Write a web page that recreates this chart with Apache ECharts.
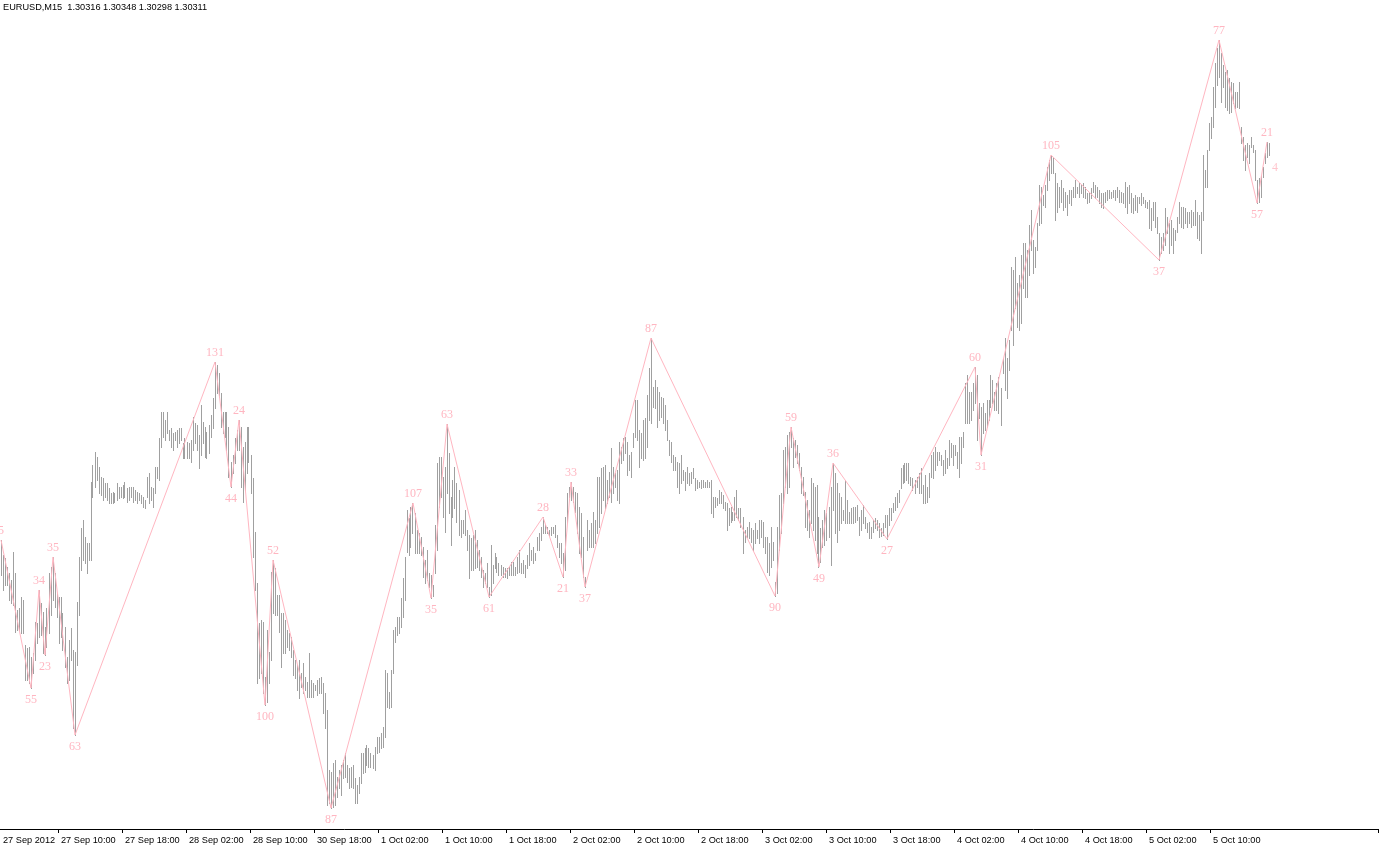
<!DOCTYPE html>
<html>
<head>
<meta charset="utf-8">
<title>EURUSD,M15</title>
<script src="https://cdn.jsdelivr.net/npm/echarts@6/dist/echarts.min.js"></script>
<style>
  html, body { margin: 0; padding: 0; background: #fff; }
  #chart { width: 1379px; height: 849px; }
</style>
</head>
<body>
<div id="chart"></div>
<script>
const symbol = 'EURUSD,M15'
// open, high, low, close of the last bar
const lastQuote = [1.30316, 1.30348, 1.30298, 1.30311]

// M15 bars, one value per bar
const highs = [
  1.28760, 1.28700, 1.28688, 1.28652, 1.28628, 1.28600, 1.28712, 1.28628, 1.28480, 1.28488,
  1.28532, 1.28520, 1.28340, 1.28328, 1.28332, 1.28292, 1.28308, 1.28432, 1.28428, 1.28560,
  1.28508, 1.28472, 1.28412, 1.28488, 1.28628, 1.28652, 1.28692, 1.28628, 1.28548, 1.28532,
  1.28532, 1.28468, 1.28412, 1.28292, 1.28360, 1.28408, 1.28320, 1.28312, 1.28512, 1.28692,
  1.28808, 1.28840, 1.28772, 1.28748, 1.28748, 1.28992, 1.29060, 1.29112, 1.29092, 1.29052,
  1.29012, 1.29008, 1.28988, 1.28988, 1.28968, 1.28948, 1.28952, 1.28948, 1.28988, 1.28972,
  1.28972, 1.28980, 1.28992, 1.28968, 1.28972, 1.28972, 1.28972, 1.28960, 1.28952, 1.28948,
  1.28940, 1.28932, 1.28920, 1.29012, 1.29028, 1.28972, 1.28968, 1.29052, 1.29052, 1.29168,
  1.29272, 1.29272, 1.29240, 1.29272, 1.29200, 1.29208, 1.29188, 1.29192, 1.29200, 1.29208,
  1.29208, 1.29148, 1.29168, 1.29152, 1.29148, 1.29160, 1.29252, 1.29228, 1.29220, 1.29180,
  1.29300, 1.29232, 1.29212, 1.29192, 1.29220, 1.29260, 1.29328, 1.29472, 1.29460, 1.29428,
  1.29348, 1.29272, 1.29272, 1.29272, 1.29212, 1.29072, 1.29100, 1.29168, 1.29200, 1.29240,
  1.29212, 1.29132, 1.29152, 1.29212, 1.29212, 1.29100, 1.29008, 1.28792, 1.28588, 1.28428,
  1.28440, 1.28432, 1.28212, 1.28400, 1.28312, 1.28632, 1.28680, 1.28648, 1.28540, 1.28540,
  1.28468, 1.28468, 1.28440, 1.28400, 1.28388, 1.28372, 1.28320, 1.28280, 1.28260, 1.28280,
  1.28228, 1.28268, 1.28212, 1.28192, 1.28308, 1.28200, 1.28188, 1.28180, 1.28200, 1.28208,
  1.28212, 1.28188, 1.28148, 1.28080, 1.27840, 1.27832, 1.27868, 1.27880, 1.27812, 1.27840,
  1.27860, 1.27880, 1.27908, 1.27860, 1.27848, 1.27852, 1.27860, 1.27808, 1.27780, 1.27812,
  1.27908, 1.27908, 1.27928, 1.27940, 1.27928, 1.27908, 1.27900, 1.27932, 1.27972, 1.27972,
  1.27988, 1.28012, 1.28240, 1.28228, 1.28152, 1.28240, 1.28400, 1.28412, 1.28452, 1.28452,
  1.28528, 1.28608, 1.28692, 1.28880, 1.28848, 1.28892, 1.28908, 1.28868, 1.28800, 1.28788,
  1.28772, 1.28732, 1.28680, 1.28720, 1.28628, 1.28620, 1.28580, 1.28820, 1.29068, 1.29092,
  1.29092, 1.29012, 1.29052, 1.29224, 1.29108, 1.28932, 1.29000, 1.29052, 1.28988, 1.28960,
  1.28840, 1.28840, 1.28880, 1.28800, 1.28780, 1.28768, 1.28780, 1.28800, 1.28760, 1.28720,
  1.28692, 1.28640, 1.28628, 1.28668, 1.28572, 1.28740, 1.28660, 1.28708, 1.28692, 1.28668,
  1.28660, 1.28652, 1.28648, 1.28648, 1.28652, 1.28672, 1.28672, 1.28652, 1.28692, 1.28720,
  1.28668, 1.28680, 1.28660, 1.28700, 1.28748, 1.28720, 1.28732, 1.28708, 1.28772, 1.28788,
  1.28812, 1.28852, 1.28820, 1.28812, 1.28800, 1.28812, 1.28812, 1.28820, 1.28780, 1.28748,
  1.28748, 1.28708, 1.28852, 1.28948, 1.28972, 1.28992, 1.28972, 1.28952, 1.28948, 1.28892,
  1.28868, 1.28772, 1.28612, 1.28840, 1.28800, 1.28828, 1.28872, 1.28840, 1.29012, 1.29012,
  1.29048, 1.29052, 1.29060, 1.29000, 1.29032, 1.29128, 1.29052, 1.29028, 1.29040, 1.29152,
  1.29132, 1.29168, 1.29172, 1.29152, 1.29100, 1.29112, 1.29188, 1.29320, 1.29320, 1.29200,
  1.29188, 1.29240, 1.29248, 1.29340, 1.29448, 1.29568, 1.29372, 1.29400, 1.29372, 1.29352,
  1.29332, 1.29328, 1.29300, 1.29240, 1.29160, 1.29152, 1.29100, 1.29092, 1.29072, 1.29068,
  1.29100, 1.29040, 1.29032, 1.29052, 1.29028, 1.29032, 1.29048, 1.29008, 1.29000, 1.28992,
  1.29000, 1.29000, 1.28992, 1.29000, 1.28992, 1.29000, 1.28932, 1.28932, 1.28928, 1.28960,
  1.28952, 1.28940, 1.28912, 1.28908, 1.28888, 1.28892, 1.28872, 1.28932, 1.28960, 1.28888,
  1.28888, 1.28852, 1.28800, 1.28812, 1.28832, 1.28808, 1.28800, 1.28828, 1.28800, 1.28840,
  1.28840, 1.28832, 1.28772, 1.28772, 1.28748, 1.28812, 1.28752, 1.28592, 1.28812, 1.28940,
  1.28948, 1.29120, 1.29132, 1.29180, 1.29192, 1.29212, 1.29168, 1.29160, 1.29140, 1.29108,
  1.29052, 1.29012, 1.28952, 1.28920, 1.28880, 1.29008, 1.28988, 1.28972, 1.28980, 1.28852,
  1.28808, 1.28840, 1.28880, 1.28868, 1.28892, 1.28972, 1.29068, 1.29028, 1.28988, 1.28948,
  1.28932, 1.28880, 1.29000, 1.28920, 1.28872, 1.28888, 1.28892, 1.28892, 1.28900, 1.28852,
  1.28880, 1.28900, 1.28852, 1.28828, 1.28832, 1.28812, 1.28840, 1.28848, 1.28840, 1.28828,
  1.28808, 1.28828, 1.28860, 1.28860, 1.28888, 1.28888, 1.28908, 1.28932, 1.28948, 1.28960,
  1.29048, 1.29060, 1.29068, 1.29068, 1.29068, 1.29012, 1.29008, 1.29000, 1.29012, 1.29028,
  1.29048, 1.28980, 1.29020, 1.28972, 1.29028, 1.29100, 1.29112, 1.29132, 1.29112, 1.29112,
  1.29100, 1.29080, 1.29120, 1.29088, 1.29160, 1.29148, 1.29140, 1.29140, 1.29112, 1.29172,
  1.29172, 1.29192, 1.29388, 1.29420, 1.29352, 1.29352, 1.29388, 1.29452, 1.29420, 1.29308,
  1.29292, 1.29308, 1.29268, 1.29320, 1.29320, 1.29420, 1.29400, 1.29352, 1.29388, 1.29412,
  1.29368, 1.29488, 1.29568, 1.29488, 1.29560, 1.29852, 1.29840, 1.29892, 1.29788, 1.29820,
  1.29900, 1.29948, 1.29948, 1.29920, 1.30020, 1.30080, 1.29960, 1.29932, 1.30028, 1.30180,
  1.30172, 1.30140, 1.30180, 1.30252, 1.30280, 1.30300, 1.30288, 1.30228, 1.30188, 1.30172,
  1.30200, 1.30168, 1.30152, 1.30140, 1.30160, 1.30160, 1.30172, 1.30200, 1.30172, 1.30188,
  1.30180, 1.30188, 1.30172, 1.30148, 1.30148, 1.30168, 1.30192, 1.30180, 1.30172, 1.30160,
  1.30148, 1.30148, 1.30152, 1.30160, 1.30160, 1.30152, 1.30160, 1.30160, 1.30172, 1.30160,
  1.30152, 1.30148, 1.30192, 1.30172, 1.30180, 1.30148, 1.30128, 1.30140, 1.30132, 1.30132,
  1.30148, 1.30132, 1.30120, 1.30112, 1.30120, 1.30088, 1.30112, 1.30112, 1.30052, 1.29988,
  1.29972, 1.29988, 1.30088, 1.30052, 1.30028, 1.30040, 1.30008, 1.30000, 1.30052, 1.30112,
  1.30092, 1.30092, 1.30088, 1.30072, 1.30072, 1.30080, 1.30072, 1.30120, 1.30072, 1.30060,
  1.30072, 1.30300, 1.30240, 1.30320, 1.30428, 1.30452, 1.30572, 1.30668, 1.30728, 1.30760,
  1.30708, 1.30660, 1.30632, 1.30640, 1.30608, 1.30592, 1.30588, 1.30552, 1.30552, 1.30592,
  1.30412, 1.30372, 1.30340, 1.30348, 1.30340, 1.30372, 1.30340, 1.30320, 1.30200, 1.30208,
  1.30220, 1.30252, 1.30308, 1.30352, 1.30348
]
const lows = [
  1.28620, 1.28560, 1.28580, 1.28580, 1.28520, 1.28508, 1.28500, 1.28392, 1.28400, 1.28400,
  1.28388, 1.28388, 1.28200, 1.28200, 1.28188, 1.28168, 1.28228, 1.28280, 1.28348, 1.28372,
  1.28380, 1.28308, 1.28300, 1.28332, 1.28388, 1.28460, 1.28520, 1.28492, 1.28452, 1.28348,
  1.28372, 1.28320, 1.28252, 1.28188, 1.28200, 1.28280, 1.28008, 1.27980, 1.28260, 1.28460,
  1.28640, 1.28680, 1.28668, 1.28628, 1.28680, 1.28680, 1.28932, 1.28972, 1.29000, 1.28948,
  1.28940, 1.28920, 1.28932, 1.28920, 1.28908, 1.28908, 1.28908, 1.28912, 1.28920, 1.28928,
  1.28932, 1.28928, 1.28932, 1.28912, 1.28920, 1.28932, 1.28912, 1.28920, 1.28908, 1.28920,
  1.28908, 1.28892, 1.28888, 1.28932, 1.28908, 1.28920, 1.28892, 1.28948, 1.29008, 1.29000,
  1.29132, 1.29172, 1.29160, 1.29188, 1.29160, 1.29132, 1.29120, 1.29160, 1.29132, 1.29148,
  1.29160, 1.29088, 1.29088, 1.29088, 1.29088, 1.29072, 1.29120, 1.29148, 1.29120, 1.29048,
  1.29100, 1.29148, 1.29092, 1.29088, 1.29108, 1.29172, 1.29208, 1.29288, 1.29348, 1.29332,
  1.29212, 1.29188, 1.29172, 1.29120, 1.29012, 1.28972, 1.29028, 1.29068, 1.29120, 1.29120,
  1.28972, 1.28912, 1.28960, 1.29028, 1.29072, 1.28948, 1.28692, 1.28560, 1.28188, 1.28208,
  1.28228, 1.28148, 1.28100, 1.28112, 1.28188, 1.28280, 1.28468, 1.28460, 1.28460, 1.28392,
  1.28252, 1.28308, 1.28308, 1.28332, 1.28320, 1.28292, 1.28220, 1.28208, 1.28160, 1.28128,
  1.28172, 1.28148, 1.28160, 1.28132, 1.28132, 1.28132, 1.28132, 1.28160, 1.28140, 1.28148,
  1.28148, 1.28068, 1.28008, 1.27700, 1.27708, 1.27688, 1.27692, 1.27700, 1.27732, 1.27768,
  1.27740, 1.27808, 1.27812, 1.27792, 1.27768, 1.27772, 1.27768, 1.27708, 1.27708, 1.27748,
  1.27788, 1.27828, 1.27832, 1.27860, 1.27852, 1.27852, 1.27848, 1.27840, 1.27908, 1.27912,
  1.27928, 1.27932, 1.27972, 1.28092, 1.28088, 1.28092, 1.28228, 1.28352, 1.28380, 1.28388,
  1.28412, 1.28452, 1.28520, 1.28712, 1.28700, 1.28732, 1.28788, 1.28708, 1.28708, 1.28708,
  1.28700, 1.28612, 1.28588, 1.28600, 1.28572, 1.28528, 1.28536, 1.28628, 1.28720, 1.28892,
  1.28932, 1.28852, 1.28792, 1.28948, 1.28868, 1.28740, 1.28852, 1.28888, 1.28832, 1.28780,
  1.28772, 1.28788, 1.28780, 1.28720, 1.28608, 1.28640, 1.28640, 1.28648, 1.28652, 1.28640,
  1.28612, 1.28572, 1.28588, 1.28572, 1.28532, 1.28540, 1.28588, 1.28648, 1.28632, 1.28620,
  1.28620, 1.28612, 1.28612, 1.28608, 1.28620, 1.28620, 1.28620, 1.28620, 1.28628, 1.28632,
  1.28628, 1.28628, 1.28612, 1.28648, 1.28660, 1.28680, 1.28668, 1.28680, 1.28720, 1.28720,
  1.28760, 1.28788, 1.28788, 1.28788, 1.28780, 1.28780, 1.28788, 1.28772, 1.28732, 1.28692,
  1.28668, 1.28612, 1.28640, 1.28828, 1.28932, 1.28920, 1.28912, 1.28872, 1.28788, 1.28708,
  1.28692, 1.28612, 1.28572, 1.28720, 1.28732, 1.28732, 1.28732, 1.28748, 1.28788, 1.28812,
  1.28868, 1.28920, 1.28888, 1.28908, 1.28932, 1.28912, 1.28948, 1.28972, 1.28920, 1.28908,
  1.29068, 1.29080, 1.29108, 1.29020, 1.29040, 1.29012, 1.29132, 1.29172, 1.29160, 1.29052,
  1.29088, 1.29080, 1.29088, 1.29132, 1.29240, 1.29228, 1.29292, 1.29288, 1.29212, 1.29240,
  1.29252, 1.29228, 1.29200, 1.29160, 1.29100, 1.29072, 1.29040, 1.29040, 1.28972, 1.28948,
  1.28988, 1.29000, 1.28960, 1.28988, 1.28980, 1.28988, 1.29008, 1.28960, 1.28968, 1.28972,
  1.28968, 1.28972, 1.28972, 1.28972, 1.28972, 1.28868, 1.28852, 1.28892, 1.28900, 1.28908,
  1.28908, 1.28888, 1.28880, 1.28800, 1.28820, 1.28832, 1.28840, 1.28840, 1.28852, 1.28840,
  1.28812, 1.28708, 1.28752, 1.28772, 1.28768, 1.28752, 1.28720, 1.28748, 1.28768, 1.28748,
  1.28772, 1.28732, 1.28708, 1.28632, 1.28620, 1.28652, 1.28680, 1.28536, 1.28548, 1.28720,
  1.28788, 1.28908, 1.28972, 1.28948, 1.28972, 1.29132, 1.29052, 1.29092, 1.29068, 1.29040,
  1.28948, 1.28940, 1.28812, 1.28800, 1.28772, 1.28828, 1.28800, 1.28760, 1.28708, 1.28652,
  1.28672, 1.28732, 1.28740, 1.28760, 1.28772, 1.28660, 1.28880, 1.28788, 1.28752, 1.28800,
  1.28828, 1.28840, 1.28828, 1.28828, 1.28828, 1.28828, 1.28828, 1.28832, 1.28840, 1.28780,
  1.28800, 1.28828, 1.28808, 1.28792, 1.28768, 1.28768, 1.28792, 1.28808, 1.28800, 1.28772,
  1.28776, 1.28780, 1.28812, 1.28764, 1.28820, 1.28840, 1.28872, 1.28880, 1.28892, 1.28912,
  1.28968, 1.28988, 1.28992, 1.29000, 1.28988, 1.28980, 1.28960, 1.28948, 1.28972, 1.28948,
  1.28948, 1.28908, 1.28908, 1.28912, 1.28932, 1.29012, 1.29008, 1.29040, 1.29060, 1.29080,
  1.29060, 1.29020, 1.29028, 1.29048, 1.29060, 1.29092, 1.29060, 1.29100, 1.29048, 1.29012,
  1.29068, 1.29132, 1.29228, 1.29228, 1.29228, 1.29240, 1.29280, 1.29308, 1.29160, 1.29248,
  1.29100, 1.29188, 1.29200, 1.29212, 1.29240, 1.29292, 1.29308, 1.29280, 1.29280, 1.29268,
  1.29220, 1.29428, 1.29360, 1.29328, 1.29440, 1.29600, 1.29540, 1.29688, 1.29612, 1.29600,
  1.29628, 1.29768, 1.29732, 1.29732, 1.29820, 1.29920, 1.29828, 1.29852, 1.29920, 1.30020,
  1.30028, 1.30100, 1.30092, 1.30160, 1.30200, 1.30228, 1.30228, 1.30040, 1.30072, 1.30092,
  1.30112, 1.30080, 1.30092, 1.30060, 1.30108, 1.30100, 1.30132, 1.30132, 1.30148, 1.30132,
  1.30148, 1.30132, 1.30128, 1.30108, 1.30112, 1.30128, 1.30152, 1.30128, 1.30132, 1.30108,
  1.30092, 1.30088, 1.30112, 1.30120, 1.30128, 1.30128, 1.30132, 1.30120, 1.30132, 1.30112,
  1.30112, 1.30108, 1.30092, 1.30068, 1.30108, 1.30072, 1.30068, 1.30080, 1.30072, 1.30108,
  1.30100, 1.30108, 1.30092, 1.30088, 1.30008, 1.30000, 1.30040, 1.30012, 1.29988, 1.29880,
  1.29908, 1.29920, 1.29940, 1.29988, 1.29908, 1.29940, 1.29908, 1.29960, 1.29992, 1.30028,
  1.30012, 1.30008, 1.30028, 1.30012, 1.30028, 1.30012, 1.30020, 1.30020, 1.29968, 1.29960,
  1.29908, 1.30040, 1.30172, 1.30172, 1.30320, 1.30368, 1.30412, 1.30492, 1.30580, 1.30612,
  1.30512, 1.30572, 1.30492, 1.30480, 1.30468, 1.30472, 1.30508, 1.30488, 1.30492, 1.30488,
  1.30348, 1.30280, 1.30240, 1.30292, 1.30268, 1.30332, 1.30312, 1.30200, 1.30108, 1.30112,
  1.30132, 1.30212, 1.30268, 1.30292, 1.30298
]

// time scale: bar slot of each label and its text
const tickIndex = [0, 29, 61, 93, 125, 157, 189, 221, 253, 285, 317, 349, 381, 413, 445, 477, 509, 541, 573, 605]
const tickLabels = [
  '27 Sep 2012', '27 Sep 10:00', '27 Sep 18:00', '28 Sep 02:00', '28 Sep 10:00', '30 Sep 18:00',
  '1 Oct 02:00', '1 Oct 10:00', '1 Oct 18:00', '2 Oct 02:00', '2 Oct 10:00', '2 Oct 18:00',
  '3 Oct 02:00', '3 Oct 10:00', '3 Oct 18:00', '4 Oct 02:00', '4 Oct 10:00', '4 Oct 18:00',
  '5 Oct 02:00', '5 Oct 10:00'
]

// zigzag turning points (bar index) and their labels, starting on a high
const zigzagIndex = [0, 15, 19, 22, 26, 37, 107, 115, 119, 132, 136, 165, 206, 215, 223, 244, 271,
  281, 285, 292, 325, 387, 395, 409, 416, 443, 487, 490, 525, 579, 609, 628, 633]
const zigzagText = ['5', '55', '34', '23', '35', '63', '131', '44', '24', '100', '52', '87', '107',
  '35', '63', '61', '28', '21', '33', '37', '87', '90', '59', '49', '36', '27', '60', '31', '105',
  '37', '77', '57', '21']
const lastLegText = '4'

const slotCount = 689
const slots = Array.from({ length: slotCount }, (v, i) => i)

const barData = highs.map((h, i) => [i, lows[i], h])
const zigzagData = zigzagIndex.map((idx, j) => {
  const isHigh = j % 2 === 0
  return {
    value: [idx, isHigh ? highs[idx] : lows[idx]],
    label: { position: isHigh ? 'top' : 'bottom', distance: isHigh ? 3 : 5 }
  }
})
const lastIdx = highs.length - 1

const tickLabelOf = {}
tickIndex.forEach((idx, k) => { tickLabelOf[idx] = tickLabels[k] })

const uiFont = '"Liberation Sans", Arial, sans-serif'

const chart = echarts.init(document.getElementById('chart'))
chart.setOption({
  animation: false,
  backgroundColor: '#fff',
  title: {
    text: symbol + '  ' + lastQuote.map(v => v.toFixed(5)).join(' '),
    left: 3,
    top: 3,
    padding: 0,
    textStyle: {
      fontFamily: uiFont,
      fontSize: 9.2,
      fontWeight: 'normal',
      color: '#000'
    }
  },
  grid: {
    left: 0,
    right: 1,
    top: 0,
    bottom: 20
  },
  xAxis: {
    type: 'category',
    data: slots,
    boundaryGap: true,
    axisLine: { lineStyle: { color: '#000', width: 1 } },
    axisTick: {
      show: true,
      length: 4,
      interval: (i) => i !== 0 && tickLabelOf[i] !== undefined,
      lineStyle: { color: '#000' }
    },
    axisLabel: {
      interval: (i) => tickLabelOf[i] !== undefined,
      formatter: (v, i) => tickLabelOf[i] || '',
      showMinLabel: true,
      hideOverlap: false,
      align: 'left',
      margin: 7,
      padding: [0, 0, 0, 2],
      fontFamily: uiFont,
      fontSize: 9.2,
      color: '#000'
    },
    splitLine: { show: false }
  },
  yAxis: {
    type: 'value',
    show: false,
    min: 1.27604,
    max: 1.30920,
    splitLine: { show: false }
  },
  series: [
    {
      type: 'custom',
      name: 'bars',
      data: barData,
      encode: { x: 0, y: [1, 2] },
      renderItem (params, api) {
        const top = api.coord([api.value(0), api.value(2)])
        const bottom = api.coord([api.value(0), api.value(1)])
        const y0 = Math.round(top[1])
        const y1 = Math.round(bottom[1])
        return {
          type: 'rect',
          shape: { x: Math.floor(top[0]), y: y0, width: 1, height: Math.max(1, y1 - y0 + 1) },
          style: { fill: '#a0a0a0' }
        }
      },
      z: 1
    },
    {
      type: 'line',
      name: 'zigzag',
      data: zigzagData,
      symbol: 'circle',
      symbolSize: 1,
      itemStyle: { color: 'rgba(0,0,0,0)' },
      lineStyle: { color: '#ffb6c1', width: 1 },
      label: {
        show: true,
        formatter: (p) => zigzagText[p.dataIndex],
        fontFamily: '"Liberation Serif", "DejaVu Serif", serif',
        fontSize: 12,
        color: '#ffb6c1'
      },
      z: 2
    },
    {
      type: 'scatter',
      name: 'last leg',
      data: [[lastIdx, lastQuote[3]]],
      symbolSize: 0,
      label: {
        show: true,
        position: 'right',
        distance: 3,
        offset: [0, 16],
        formatter: lastLegText,
        fontFamily: '"Liberation Serif", "DejaVu Serif", serif',
        fontSize: 12,
        color: '#ffb6c1'
      },
      z: 2
    }
  ]
})
</script>
</body>
</html>
